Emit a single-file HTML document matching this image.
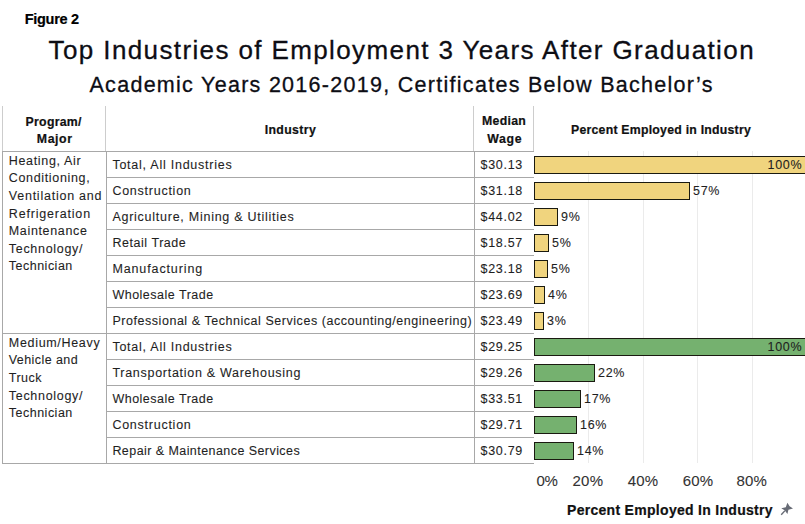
<!DOCTYPE html>
<html><head><meta charset="utf-8"><style>
html,body{margin:0;padding:0;background:#fff;}
body{width:805px;height:524px;position:relative;overflow:hidden;font-family:"Liberation Sans",sans-serif;}
.t{position:absolute;white-space:pre;}
.r{position:absolute;}
.bar{position:absolute;height:18px;box-sizing:border-box;border:1px solid #1a1a10;}
</style></head><body>
<div class="r" style="left:588px;top:151px;width:1px;height:312px;background:#ebebeb"></div>
<div class="r" style="left:643px;top:151px;width:1px;height:312px;background:#ebebeb"></div>
<div class="r" style="left:697px;top:151px;width:1px;height:312px;background:#ebebeb"></div>
<div class="r" style="left:752px;top:151px;width:1px;height:312px;background:#ebebeb"></div>
<div class="r" style="left:2px;top:106px;width:1px;height:45px;background:#cdcdcd"></div>
<div class="r" style="left:105px;top:106px;width:1px;height:45px;background:#cdcdcd"></div>
<div class="r" style="left:473px;top:106px;width:1px;height:45px;background:#cdcdcd"></div>
<div class="r" style="left:533px;top:106px;width:1px;height:45px;background:#cdcdcd"></div>
<div class="r" style="left:2px;top:151px;width:1px;height:313px;background:#a8a8a8"></div>
<div class="r" style="left:106px;top:151px;width:1px;height:313px;background:#a8a8a8"></div>
<div class="r" style="left:474px;top:151px;width:1px;height:313px;background:#a8a8a8"></div>
<div class="r" style="left:2px;top:151px;width:532px;height:1px;background:#a8a8a8"></div>
<div class="r" style="left:106px;top:177px;width:428px;height:1px;background:#a8a8a8"></div>
<div class="r" style="left:106px;top:203px;width:428px;height:1px;background:#a8a8a8"></div>
<div class="r" style="left:106px;top:229px;width:428px;height:1px;background:#a8a8a8"></div>
<div class="r" style="left:106px;top:255px;width:428px;height:1px;background:#a8a8a8"></div>
<div class="r" style="left:106px;top:281px;width:428px;height:1px;background:#a8a8a8"></div>
<div class="r" style="left:106px;top:307px;width:428px;height:1px;background:#a8a8a8"></div>
<div class="r" style="left:2px;top:333px;width:532px;height:1px;background:#a8a8a8"></div>
<div class="r" style="left:106px;top:359px;width:428px;height:1px;background:#a8a8a8"></div>
<div class="r" style="left:106px;top:385px;width:428px;height:1px;background:#a8a8a8"></div>
<div class="r" style="left:106px;top:411px;width:428px;height:1px;background:#a8a8a8"></div>
<div class="r" style="left:106px;top:437px;width:428px;height:1px;background:#a8a8a8"></div>
<div class="r" style="left:2px;top:463px;width:532px;height:1px;background:#a8a8a8"></div>
<div class="bar" style="left:534px;top:156px;width:286px;background:#f0d47e"></div>
<div class="bar" style="left:534px;top:182px;width:156px;background:#f0d47e"></div>
<div class="bar" style="left:534px;top:208px;width:24px;background:#f0d47e"></div>
<div class="bar" style="left:534px;top:234px;width:15px;background:#f0d47e"></div>
<div class="bar" style="left:534px;top:260px;width:14px;background:#f0d47e"></div>
<div class="bar" style="left:534px;top:286px;width:11px;background:#f0d47e"></div>
<div class="bar" style="left:534px;top:312px;width:10px;background:#f0d47e"></div>
<div class="bar" style="left:534px;top:338px;width:286px;background:#75b16f"></div>
<div class="bar" style="left:534px;top:364px;width:61px;background:#75b16f"></div>
<div class="bar" style="left:534px;top:390px;width:47px;background:#75b16f"></div>
<div class="bar" style="left:534px;top:416px;width:43px;background:#75b16f"></div>
<div class="bar" style="left:534px;top:442px;width:40px;background:#75b16f"></div>
<div class="t" style="-webkit-text-stroke:0.2px currentColor;left:24.80px;top:11.08px;font-size:14.5px;line-height:17.4px;font-weight:bold;color:#000;letter-spacing:-0.315px">Figure 2</div>
<div class="t" style="-webkit-text-stroke:0.3px currentColor;left:48.60px;top:34.79px;font-size:26px;line-height:31.2px;font-weight:normal;color:#0d0d14;letter-spacing:1.384px">Top Industries of Employment 3 Years After Graduation</div>
<div class="t" style="-webkit-text-stroke:0.3px currentColor;left:89.50px;top:72.65px;font-size:21.5px;line-height:25.8px;font-weight:normal;color:#0d0d14;letter-spacing:1.282px">Academic Years 2016-2019, Certificates Below Bachelor’s</div>
<div class="t" style="-webkit-text-stroke:0.2px currentColor;left:25.60px;top:114.66px;font-size:12.3px;line-height:14.76px;font-weight:bold;color:#111;letter-spacing:0.271px">Program/</div>
<div class="t" style="-webkit-text-stroke:0.2px currentColor;left:36.80px;top:131.76px;font-size:12.3px;line-height:14.76px;font-weight:bold;color:#111;letter-spacing:0.601px">Major</div>
<div class="t" style="-webkit-text-stroke:0.2px currentColor;left:264.70px;top:122.76px;font-size:12.3px;line-height:14.76px;font-weight:bold;color:#111;letter-spacing:0.369px">Industry</div>
<div class="t" style="-webkit-text-stroke:0.2px currentColor;left:482.00px;top:114.46px;font-size:12.3px;line-height:14.76px;font-weight:bold;color:#111;letter-spacing:0.285px">Median</div>
<div class="t" style="-webkit-text-stroke:0.2px currentColor;left:487.30px;top:132.06px;font-size:12.3px;line-height:14.76px;font-weight:bold;color:#111;letter-spacing:0.619px">Wage</div>
<div class="t" style="-webkit-text-stroke:0.2px currentColor;left:571.00px;top:123.26px;font-size:12.3px;line-height:14.76px;font-weight:bold;color:#111;letter-spacing:0.231px">Percent Employed in Industry</div>
<div class="t" style="-webkit-text-stroke:0.1px currentColor;left:8.80px;top:153.57px;font-size:12.5px;line-height:15.0px;font-weight:normal;color:#1f1f1f;letter-spacing:0.661px">Heating, Air</div>
<div class="t" style="-webkit-text-stroke:0.1px currentColor;left:8.80px;top:171.22px;font-size:12.5px;line-height:15.0px;font-weight:normal;color:#1f1f1f;letter-spacing:0.653px">Conditioning,</div>
<div class="t" style="-webkit-text-stroke:0.1px currentColor;left:8.80px;top:188.87px;font-size:12.5px;line-height:15.0px;font-weight:normal;color:#1f1f1f;letter-spacing:0.763px">Ventilation and</div>
<div class="t" style="-webkit-text-stroke:0.1px currentColor;left:8.80px;top:206.52px;font-size:12.5px;line-height:15.0px;font-weight:normal;color:#1f1f1f;letter-spacing:0.810px">Refrigeration</div>
<div class="t" style="-webkit-text-stroke:0.1px currentColor;left:8.80px;top:224.17px;font-size:12.5px;line-height:15.0px;font-weight:normal;color:#1f1f1f;letter-spacing:0.652px">Maintenance</div>
<div class="t" style="-webkit-text-stroke:0.1px currentColor;left:8.80px;top:241.82px;font-size:12.5px;line-height:15.0px;font-weight:normal;color:#1f1f1f;letter-spacing:0.698px">Technology/</div>
<div class="t" style="-webkit-text-stroke:0.1px currentColor;left:8.80px;top:259.47px;font-size:12.5px;line-height:15.0px;font-weight:normal;color:#1f1f1f;letter-spacing:0.491px">Technician</div>
<div class="t" style="-webkit-text-stroke:0.1px currentColor;left:8.80px;top:335.67px;font-size:12.5px;line-height:15.0px;font-weight:normal;color:#1f1f1f;letter-spacing:0.684px">Medium/Heavy</div>
<div class="t" style="-webkit-text-stroke:0.1px currentColor;left:8.80px;top:353.35px;font-size:12.5px;line-height:15.0px;font-weight:normal;color:#1f1f1f;letter-spacing:0.416px">Vehicle and</div>
<div class="t" style="-webkit-text-stroke:0.1px currentColor;left:8.80px;top:371.03px;font-size:12.5px;line-height:15.0px;font-weight:normal;color:#1f1f1f;letter-spacing:0.451px">Truck</div>
<div class="t" style="-webkit-text-stroke:0.1px currentColor;left:8.80px;top:388.71px;font-size:12.5px;line-height:15.0px;font-weight:normal;color:#1f1f1f;letter-spacing:0.698px">Technology/</div>
<div class="t" style="-webkit-text-stroke:0.1px currentColor;left:8.80px;top:406.39px;font-size:12.5px;line-height:15.0px;font-weight:normal;color:#1f1f1f;letter-spacing:0.491px">Technician</div>
<div class="t" style="-webkit-text-stroke:0.1px currentColor;left:112.40px;top:157.67px;font-size:12.5px;line-height:15.0px;font-weight:normal;color:#1f1f1f;letter-spacing:0.754px">Total, All Industries</div>
<div class="t" style="-webkit-text-stroke:0.1px currentColor;left:480.50px;top:157.67px;font-size:12.5px;line-height:15.0px;font-weight:normal;color:#1f1f1f;letter-spacing:0.700px">$30.13</div>
<div class="t" style="-webkit-text-stroke:0.1px currentColor;left:112.40px;top:183.67px;font-size:12.5px;line-height:15.0px;font-weight:normal;color:#1f1f1f;letter-spacing:0.747px">Construction</div>
<div class="t" style="-webkit-text-stroke:0.1px currentColor;left:480.50px;top:183.67px;font-size:12.5px;line-height:15.0px;font-weight:normal;color:#1f1f1f;letter-spacing:0.700px">$31.18</div>
<div class="t" style="-webkit-text-stroke:0.1px currentColor;left:112.40px;top:209.67px;font-size:12.5px;line-height:15.0px;font-weight:normal;color:#1f1f1f;letter-spacing:0.744px">Agriculture, Mining &amp; Utilities</div>
<div class="t" style="-webkit-text-stroke:0.1px currentColor;left:480.50px;top:209.67px;font-size:12.5px;line-height:15.0px;font-weight:normal;color:#1f1f1f;letter-spacing:0.700px">$44.02</div>
<div class="t" style="-webkit-text-stroke:0.1px currentColor;left:112.40px;top:235.67px;font-size:12.5px;line-height:15.0px;font-weight:normal;color:#1f1f1f;letter-spacing:0.545px">Retail Trade</div>
<div class="t" style="-webkit-text-stroke:0.1px currentColor;left:480.50px;top:235.67px;font-size:12.5px;line-height:15.0px;font-weight:normal;color:#1f1f1f;letter-spacing:0.700px">$18.57</div>
<div class="t" style="-webkit-text-stroke:0.1px currentColor;left:112.40px;top:261.67px;font-size:12.5px;line-height:15.0px;font-weight:normal;color:#1f1f1f;letter-spacing:0.882px">Manufacturing</div>
<div class="t" style="-webkit-text-stroke:0.1px currentColor;left:480.50px;top:261.67px;font-size:12.5px;line-height:15.0px;font-weight:normal;color:#1f1f1f;letter-spacing:0.700px">$23.18</div>
<div class="t" style="-webkit-text-stroke:0.1px currentColor;left:112.40px;top:287.67px;font-size:12.5px;line-height:15.0px;font-weight:normal;color:#1f1f1f;letter-spacing:0.499px">Wholesale Trade</div>
<div class="t" style="-webkit-text-stroke:0.1px currentColor;left:480.50px;top:287.67px;font-size:12.5px;line-height:15.0px;font-weight:normal;color:#1f1f1f;letter-spacing:0.700px">$23.69</div>
<div class="t" style="-webkit-text-stroke:0.1px currentColor;left:112.40px;top:313.67px;font-size:12.5px;line-height:15.0px;font-weight:normal;color:#1f1f1f;letter-spacing:0.543px">Professional &amp; Technical Services (accounting/engineering)</div>
<div class="t" style="-webkit-text-stroke:0.1px currentColor;left:480.50px;top:313.67px;font-size:12.5px;line-height:15.0px;font-weight:normal;color:#1f1f1f;letter-spacing:0.700px">$23.49</div>
<div class="t" style="-webkit-text-stroke:0.1px currentColor;left:112.40px;top:339.67px;font-size:12.5px;line-height:15.0px;font-weight:normal;color:#1f1f1f;letter-spacing:0.754px">Total, All Industries</div>
<div class="t" style="-webkit-text-stroke:0.1px currentColor;left:480.50px;top:339.67px;font-size:12.5px;line-height:15.0px;font-weight:normal;color:#1f1f1f;letter-spacing:0.700px">$29.25</div>
<div class="t" style="-webkit-text-stroke:0.1px currentColor;left:112.40px;top:365.67px;font-size:12.5px;line-height:15.0px;font-weight:normal;color:#1f1f1f;letter-spacing:0.718px">Transportation &amp; Warehousing</div>
<div class="t" style="-webkit-text-stroke:0.1px currentColor;left:480.50px;top:365.67px;font-size:12.5px;line-height:15.0px;font-weight:normal;color:#1f1f1f;letter-spacing:0.700px">$29.26</div>
<div class="t" style="-webkit-text-stroke:0.1px currentColor;left:112.40px;top:391.67px;font-size:12.5px;line-height:15.0px;font-weight:normal;color:#1f1f1f;letter-spacing:0.499px">Wholesale Trade</div>
<div class="t" style="-webkit-text-stroke:0.1px currentColor;left:480.50px;top:391.67px;font-size:12.5px;line-height:15.0px;font-weight:normal;color:#1f1f1f;letter-spacing:0.700px">$33.51</div>
<div class="t" style="-webkit-text-stroke:0.1px currentColor;left:112.40px;top:417.67px;font-size:12.5px;line-height:15.0px;font-weight:normal;color:#1f1f1f;letter-spacing:0.747px">Construction</div>
<div class="t" style="-webkit-text-stroke:0.1px currentColor;left:480.50px;top:417.67px;font-size:12.5px;line-height:15.0px;font-weight:normal;color:#1f1f1f;letter-spacing:0.700px">$29.71</div>
<div class="t" style="-webkit-text-stroke:0.1px currentColor;left:112.40px;top:443.67px;font-size:12.5px;line-height:15.0px;font-weight:normal;color:#1f1f1f;letter-spacing:0.436px">Repair &amp; Maintenance Services</div>
<div class="t" style="-webkit-text-stroke:0.1px currentColor;left:480.50px;top:443.67px;font-size:12.5px;line-height:15.0px;font-weight:normal;color:#1f1f1f;letter-spacing:0.700px">$30.79</div>
<div class="t" style="-webkit-text-stroke:0.1px currentColor;left:536.60px;top:472.40px;font-size:15px;line-height:18.0px;font-weight:normal;color:#333;letter-spacing:-0.488px">0%</div>
<div class="t" style="-webkit-text-stroke:0.1px currentColor;left:572.60px;top:472.40px;font-size:15px;line-height:18.0px;font-weight:normal;color:#333;letter-spacing:0.184px">20%</div>
<div class="t" style="-webkit-text-stroke:0.1px currentColor;left:627.80px;top:472.40px;font-size:15px;line-height:18.0px;font-weight:normal;color:#333;letter-spacing:0.184px">40%</div>
<div class="t" style="-webkit-text-stroke:0.1px currentColor;left:682.80px;top:472.40px;font-size:15px;line-height:18.0px;font-weight:normal;color:#333;letter-spacing:0.184px">60%</div>
<div class="t" style="-webkit-text-stroke:0.1px currentColor;left:736.50px;top:472.40px;font-size:15px;line-height:18.0px;font-weight:normal;color:#333;letter-spacing:0.184px">80%</div>
<div class="t" style="-webkit-text-stroke:0.2px currentColor;left:567.00px;top:501.95px;font-size:14px;line-height:16.8px;font-weight:bold;color:#111;letter-spacing:0.296px">Percent Employed In Industry</div>
<div class="t" style="-webkit-text-stroke:0.1px currentColor;left:767.52px;top:157.67px;font-size:12.5px;line-height:15.0px;font-weight:normal;color:#1f1f1f;letter-spacing:0.700px">100%</div>
<div class="t" style="-webkit-text-stroke:0.1px currentColor;left:693.00px;top:183.67px;font-size:12.5px;line-height:15.0px;font-weight:normal;color:#1f1f1f;letter-spacing:0.700px">57%</div>
<div class="t" style="-webkit-text-stroke:0.1px currentColor;left:561.00px;top:209.67px;font-size:12.5px;line-height:15.0px;font-weight:normal;color:#1f1f1f;letter-spacing:0.700px">9%</div>
<div class="t" style="-webkit-text-stroke:0.1px currentColor;left:552.00px;top:235.67px;font-size:12.5px;line-height:15.0px;font-weight:normal;color:#1f1f1f;letter-spacing:0.700px">5%</div>
<div class="t" style="-webkit-text-stroke:0.1px currentColor;left:551.00px;top:261.67px;font-size:12.5px;line-height:15.0px;font-weight:normal;color:#1f1f1f;letter-spacing:0.700px">5%</div>
<div class="t" style="-webkit-text-stroke:0.1px currentColor;left:548.00px;top:287.67px;font-size:12.5px;line-height:15.0px;font-weight:normal;color:#1f1f1f;letter-spacing:0.700px">4%</div>
<div class="t" style="-webkit-text-stroke:0.1px currentColor;left:547.00px;top:313.67px;font-size:12.5px;line-height:15.0px;font-weight:normal;color:#1f1f1f;letter-spacing:0.700px">3%</div>
<div class="t" style="-webkit-text-stroke:0.1px currentColor;left:767.52px;top:339.67px;font-size:12.5px;line-height:15.0px;font-weight:normal;color:#1f1f1f;letter-spacing:0.700px">100%</div>
<div class="t" style="-webkit-text-stroke:0.1px currentColor;left:598.00px;top:365.67px;font-size:12.5px;line-height:15.0px;font-weight:normal;color:#1f1f1f;letter-spacing:0.700px">22%</div>
<div class="t" style="-webkit-text-stroke:0.1px currentColor;left:584.00px;top:391.67px;font-size:12.5px;line-height:15.0px;font-weight:normal;color:#1f1f1f;letter-spacing:0.700px">17%</div>
<div class="t" style="-webkit-text-stroke:0.1px currentColor;left:580.00px;top:417.67px;font-size:12.5px;line-height:15.0px;font-weight:normal;color:#1f1f1f;letter-spacing:0.700px">16%</div>
<div class="t" style="-webkit-text-stroke:0.1px currentColor;left:577.00px;top:443.67px;font-size:12.5px;line-height:15.0px;font-weight:normal;color:#1f1f1f;letter-spacing:0.700px">14%</div>
<svg style="position:absolute;left:776px;top:499px" width="22" height="19" viewBox="776 499 22 19"><polygon fill="#676b75" points="787.4,502.8 789.6,506.2 793.0,508.4 788.4,509.8 787.4,514.0 784.9,510.6 781.3,508.2 785.8,507.2"/><line x1="785" y1="510.6" x2="781.2" y2="514.8" stroke="#676b75" stroke-width="1.4"/></svg>
</body></html>
